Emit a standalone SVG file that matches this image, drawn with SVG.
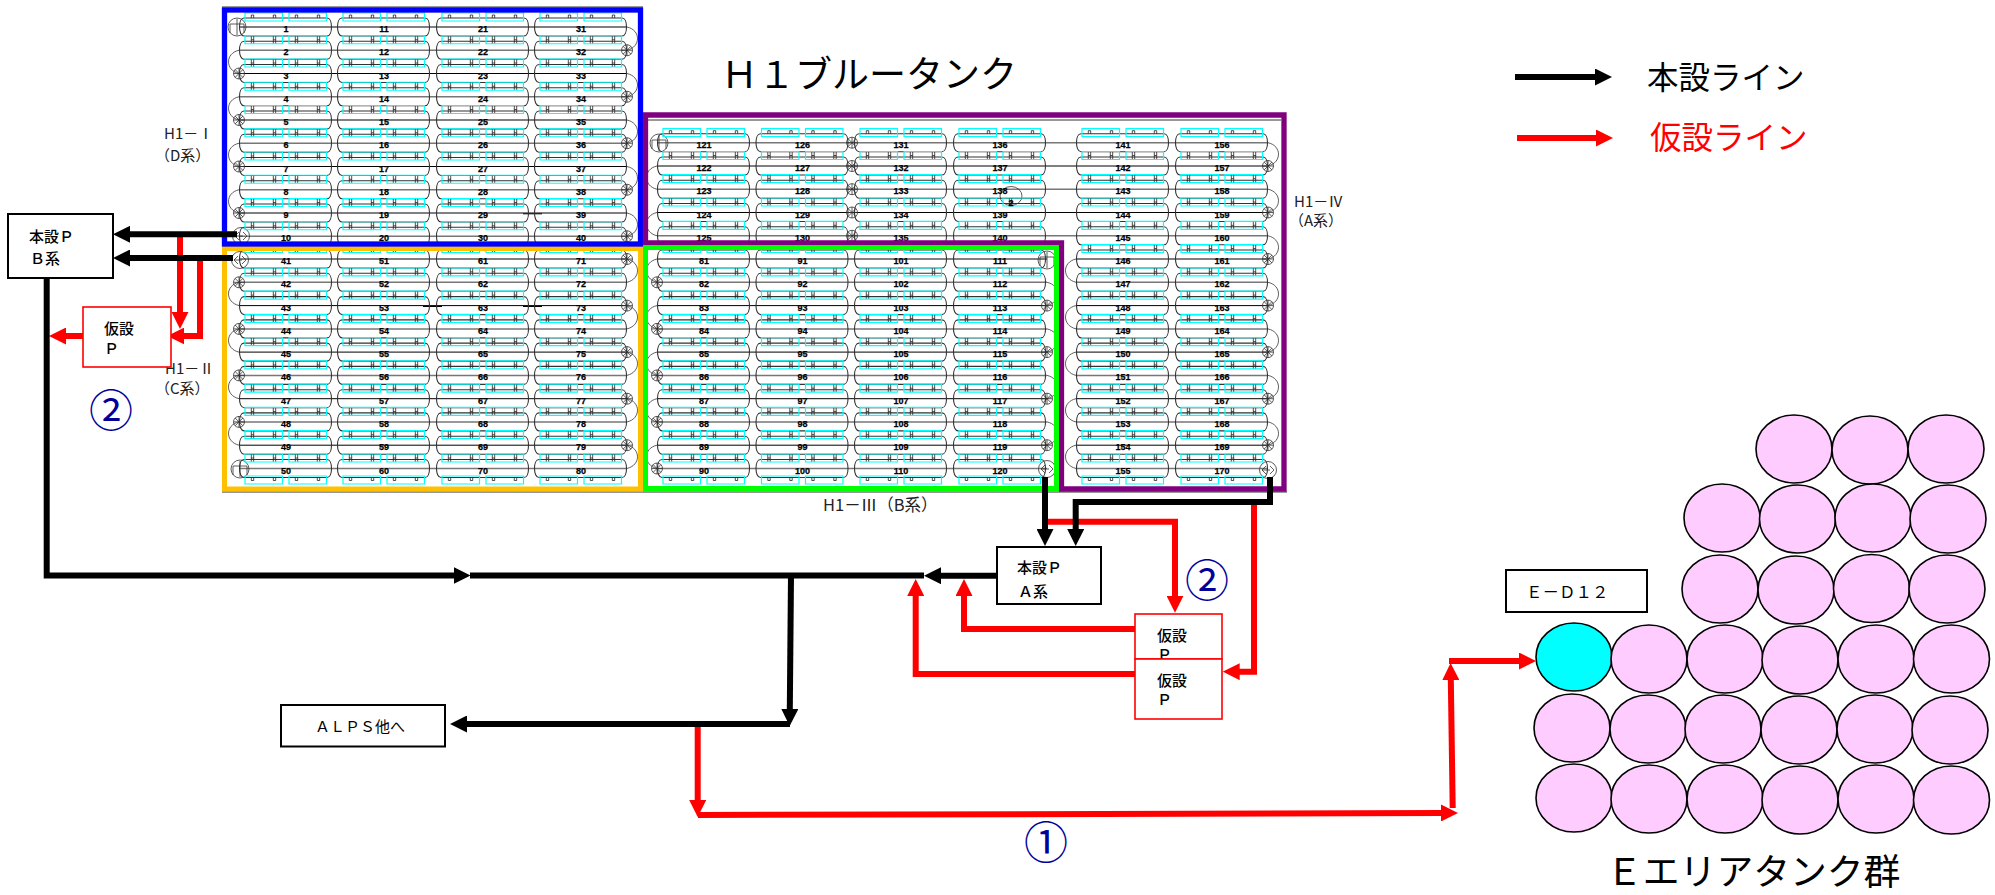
<svg xmlns="http://www.w3.org/2000/svg" width="1995" height="895" viewBox="0 0 1995 895">
<style>
text{font-family:"Noto Sans CJK JP","Liberation Sans",sans-serif;fill:#000;font-weight:400}
.n{font:bold 9px "Liberation Sans",sans-serif;text-anchor:middle;stroke:#000;stroke-width:.25}
.o{fill:none;stroke:#333;stroke-width:1.1}
.c{fill:none;stroke:#00ffff;stroke-width:1.2}
.m{fill:none;stroke:#222;stroke-width:.8}
.lk{fill:none;stroke:#000;stroke-width:1}
.lg{fill:none;stroke:#777;stroke-width:1.5}
.b{fill:none;stroke:#333;stroke-width:.8}
.p{fill:none;stroke:#333;stroke-width:.8}
.fb{fill:none;stroke:#000;stroke-width:6}
.fr{fill:none;stroke:#f00;stroke-width:6}
.fb.a{marker-end:url(#ah)}
.fr.a{marker-end:url(#ahr)}
.box{fill:#fff;stroke:#000;stroke-width:2}
.rbox{fill:#fff;stroke:#f00;stroke-width:1.6}
.t15{font-size:15px;font-weight:500}
.lab{fill:#222}
.no{font-size:44px;fill:#000099;text-anchor:middle}
.et{fill:#ffccff;stroke:#000;stroke-width:1.6}
</style>
<defs>
<marker id="ah" markerUnits="userSpaceOnUse" viewBox="0 0 17 17" markerWidth="17" markerHeight="17" refX="1" refY="8.5" orient="auto"><path d="M0,0L17,8.5L0,17Z" fill="#000"/></marker>
<marker id="ahr" markerUnits="userSpaceOnUse" viewBox="0 0 17 17" markerWidth="17" markerHeight="17" refX="1" refY="8.5" orient="auto"><path d="M0,0L17,8.5L0,17Z" fill="#f00"/></marker>
<path id="ol" class="o" d="M5,-9H88C94,-9 94,9 88,9H5C-1,9 -1,-9 5,-9Z"/>
<g id="tk"><use href="#ol"/><path class="c" d="M6,-14.5h37.5v8h-37.5zM50,-14.5h37.5v8h-37.5z"/><path class="m" d="M12.3,-14v7M14.7,-14v7M12.3,-10.5h2.4M34.3,-14v7M36.7,-14v7M34.3,-10.5h2.4M56.3,-14v7M58.7,-14v7M56.3,-10.5h2.4M78.3,-14v7M80.7,-14v7M78.3,-10.5h2.4"/></g>
<g id="tkT"><use href="#ol"/><path class="c" d="M6,-14h37.5v8h-37.5zM50,-14h37.5v8h-37.5z"/><path class="m" d="M12.3,-9v-3h2.4v3M34.3,-9v-3h2.4v3M56.3,-9v-3h2.4v3M78.3,-9v-3h2.4v3"/></g>
<g id="tkB"><use href="#tk"/><path class="c" d="M6,7.5h37.5v8h-37.5zM50,7.5h37.5v8h-37.5z"/><path class="m" d="M12.3,9v3h2.4v-3M34.3,9v3h2.4v-3M56.3,9v3h2.4v-3M78.3,9v3h2.4v-3"/></g>
<path id="bR" class="b" d="M0,0C14,3 14,20 0,23.27"/>
<path id="bL" class="b" d="M0,0C-14,3 -14,20 0,23.27"/>
<g id="ps"><circle class="p" r="5.5"/><path class="p" d="M-5.5,0H5.5M0,-5.5V5.5M-3.9,-3.9L3.9,3.9M-3.9,3.9L3.9,-3.9"/></g>
<g id="pT"><circle class="p" r="9"/><path class="p" d="M-7,6V-3H7V6M0,-8V8"/></g>
<g id="pS"><circle class="p" r="8.5"/><path class="p" d="M-2,-4L-6,0L-2,4M2,-4L6,0L2,4M-6,0H2"/></g>
</defs>

<g id="piping">
<path class="lk" d="M239,27H627M239,73.5H627M239,120H627M239,166.5H627M239,213H627M239,259H627M239,305.6H627M239,352.1H627M239,398.7H627M239,445.2H627M657,259H1047M657,305.6H1047M657,352.1H1047M657,398.7H1047M657,445.2H1047M657,166H1268M657,212.5H1268M1076,259H1268M1076,305.6H1268M1076,352.1H1268M1076,398.7H1268M1076,445.2H1268M523,213.8H542M423,306.5H442M523,306.5H542"/>
<path class="lg" d="M239,50.25H627M239,96.75H627M239,143.25H627M239,189.75H627M239,236.25H627M239,282.3H627M239,328.9H627M239,375.4H627M239,421.9H627M239,468.5H627M657,282.3H1047M657,328.9H1047M657,375.4H1047M657,421.9H1047M657,468.5H1047M657,142.7H1268M657,189.2H1268M657,235.8H1268M1076,282.3H1268M1076,328.9H1268M1076,375.4H1268M1076,421.9H1268M1076,468.5H1268"/>
<use href="#bR" x="627" y="27"/><use href="#bR" x="627" y="73.5"/><use href="#bR" x="627" y="120"/><use href="#bR" x="627" y="166.5"/><use href="#bR" x="627" y="213"/>
<use href="#bL" x="239" y="50.25"/><use href="#bL" x="239" y="96.75"/><use href="#bL" x="239" y="143.25"/><use href="#bL" x="239" y="189.75"/>
<use href="#ps" x="627" y="50.25"/><use href="#ps" x="627" y="96.75"/><use href="#ps" x="627" y="143.25"/><use href="#ps" x="627" y="189.75"/><use href="#ps" x="627" y="236.25"/>
<use href="#ps" x="239" y="73.5"/><use href="#ps" x="239" y="120"/><use href="#ps" x="239" y="166.5"/><use href="#ps" x="239" y="213"/>
<use href="#pT" x="237" y="27"/><use href="#pS" x="241" y="236"/>
<use href="#bR" x="627" y="259"/><use href="#bR" x="627" y="305.6"/><use href="#bR" x="627" y="352.1"/><use href="#bR" x="627" y="398.7"/><use href="#bR" x="627" y="445.2"/>
<use href="#bL" x="239" y="282.3"/><use href="#bL" x="239" y="328.9"/><use href="#bL" x="239" y="375.4"/><use href="#bL" x="239" y="421.9"/>
<use href="#ps" x="627" y="259"/><use href="#ps" x="627" y="305.6"/><use href="#ps" x="627" y="352.1"/><use href="#ps" x="627" y="398.7"/><use href="#ps" x="627" y="445.2"/>
<use href="#ps" x="239" y="282.3"/><use href="#ps" x="239" y="328.9"/><use href="#ps" x="239" y="375.4"/><use href="#ps" x="239" y="421.9"/>
<use href="#pS" x="240" y="260"/><use href="#pT" x="240" y="469"/>
<use href="#bL" x="657" y="259"/><use href="#bL" x="657" y="305.6"/><use href="#bL" x="657" y="352.1"/><use href="#bL" x="657" y="398.7"/><use href="#bL" x="657" y="445.2"/>
<use href="#bR" x="1047" y="282.3"/><use href="#bR" x="1047" y="328.9"/><use href="#bR" x="1047" y="375.4"/><use href="#bR" x="1047" y="421.9"/>
<use href="#ps" x="657" y="282.3"/><use href="#ps" x="657" y="328.9"/><use href="#ps" x="657" y="375.4"/><use href="#ps" x="657" y="421.9"/><use href="#ps" x="657" y="468.5"/>
<use href="#ps" x="1047" y="305.6"/><use href="#ps" x="1047" y="352.1"/><use href="#ps" x="1047" y="398.7"/><use href="#ps" x="1047" y="445.2"/>
<use href="#pT" x="1047" y="260"/><use href="#pS" x="1047" y="469"/>
<use href="#bL" x="657" y="166"/><use href="#bL" x="657" y="212.5"/>
<use href="#pT" x="659" y="143"/>
<use href="#ps" x="852" y="142.7"/><use href="#ps" x="852" y="166"/><use href="#ps" x="852" y="189.2"/><use href="#ps" x="852" y="212.5"/><use href="#ps" x="852" y="235.8"/>
<use href="#bR" x="1268" y="142.7"/><use href="#bR" x="1268" y="189.2"/><use href="#bR" x="1268" y="235.8"/><use href="#bR" x="1268" y="282.3"/><use href="#bR" x="1268" y="328.9"/><use href="#bR" x="1268" y="375.4"/><use href="#bR" x="1268" y="421.9"/>
<use href="#ps" x="1268" y="166"/><use href="#ps" x="1268" y="212.5"/><use href="#ps" x="1268" y="259"/><use href="#ps" x="1268" y="305.6"/><use href="#ps" x="1268" y="352.1"/><use href="#ps" x="1268" y="398.7"/><use href="#ps" x="1268" y="445.2"/>
<use href="#bL" x="1076" y="259"/><use href="#bL" x="1076" y="305.6"/><use href="#bL" x="1076" y="352.1"/><use href="#bL" x="1076" y="398.7"/><use href="#bL" x="1076" y="445.2"/>
<use href="#pS" x="1268" y="470"/>
<ellipse class="p" cx="1011" cy="196" rx="11" ry="9.5"/>
<path d="M647,120H1281M222,492H1287M222,7H643" fill="none" stroke="#333" stroke-width="1"/>
</g>

<g id="tanks-d">
<g id="t1" transform="translate(239,27)"><use href="#tkT"/><text class="n" x="47" y="5">1</text></g>
<g id="t2" transform="translate(239,50.25)"><use href="#tk"/><text class="n" x="47" y="5">2</text></g>
<g id="t3" transform="translate(239,73.5)"><use href="#tk"/><text class="n" x="47" y="5">3</text></g>
<g id="t4" transform="translate(239,96.75)"><use href="#tk"/><text class="n" x="47" y="5">4</text></g>
<g id="t5" transform="translate(239,120)"><use href="#tk"/><text class="n" x="47" y="5">5</text></g>
<g id="t6" transform="translate(239,143.25)"><use href="#tk"/><text class="n" x="47" y="5">6</text></g>
<g id="t7" transform="translate(239,166.5)"><use href="#tk"/><text class="n" x="47" y="5">7</text></g>
<g id="t8" transform="translate(239,189.75)"><use href="#tk"/><text class="n" x="47" y="5">8</text></g>
<g id="t9" transform="translate(239,213)"><use href="#tk"/><text class="n" x="47" y="5">9</text></g>
<g id="t10" transform="translate(239,236.25)"><use href="#tk"/><text class="n" x="47" y="5">10</text></g>
<g id="t11" transform="translate(337,27)"><use href="#tkT"/><text class="n" x="47" y="5">11</text></g>
<g id="t12" transform="translate(337,50.25)"><use href="#tk"/><text class="n" x="47" y="5">12</text></g>
<g id="t13" transform="translate(337,73.5)"><use href="#tk"/><text class="n" x="47" y="5">13</text></g>
<g id="t14" transform="translate(337,96.75)"><use href="#tk"/><text class="n" x="47" y="5">14</text></g>
<g id="t15" transform="translate(337,120)"><use href="#tk"/><text class="n" x="47" y="5">15</text></g>
<g id="t16" transform="translate(337,143.25)"><use href="#tk"/><text class="n" x="47" y="5">16</text></g>
<g id="t17" transform="translate(337,166.5)"><use href="#tk"/><text class="n" x="47" y="5">17</text></g>
<g id="t18" transform="translate(337,189.75)"><use href="#tk"/><text class="n" x="47" y="5">18</text></g>
<g id="t19" transform="translate(337,213)"><use href="#tk"/><text class="n" x="47" y="5">19</text></g>
<g id="t20" transform="translate(337,236.25)"><use href="#tk"/><text class="n" x="47" y="5">20</text></g>
<g id="t21" transform="translate(436,27)"><use href="#tkT"/><text class="n" x="47" y="5">21</text></g>
<g id="t22" transform="translate(436,50.25)"><use href="#tk"/><text class="n" x="47" y="5">22</text></g>
<g id="t23" transform="translate(436,73.5)"><use href="#tk"/><text class="n" x="47" y="5">23</text></g>
<g id="t24" transform="translate(436,96.75)"><use href="#tk"/><text class="n" x="47" y="5">24</text></g>
<g id="t25" transform="translate(436,120)"><use href="#tk"/><text class="n" x="47" y="5">25</text></g>
<g id="t26" transform="translate(436,143.25)"><use href="#tk"/><text class="n" x="47" y="5">26</text></g>
<g id="t27" transform="translate(436,166.5)"><use href="#tk"/><text class="n" x="47" y="5">27</text></g>
<g id="t28" transform="translate(436,189.75)"><use href="#tk"/><text class="n" x="47" y="5">28</text></g>
<g id="t29" transform="translate(436,213)"><use href="#tk"/><text class="n" x="47" y="5">29</text></g>
<g id="t30" transform="translate(436,236.25)"><use href="#tk"/><text class="n" x="47" y="5">30</text></g>
<g id="t31" transform="translate(534,27)"><use href="#tkT"/><text class="n" x="47" y="5">31</text></g>
<g id="t32" transform="translate(534,50.25)"><use href="#tk"/><text class="n" x="47" y="5">32</text></g>
<g id="t33" transform="translate(534,73.5)"><use href="#tk"/><text class="n" x="47" y="5">33</text></g>
<g id="t34" transform="translate(534,96.75)"><use href="#tk"/><text class="n" x="47" y="5">34</text></g>
<g id="t35" transform="translate(534,120)"><use href="#tk"/><text class="n" x="47" y="5">35</text></g>
<g id="t36" transform="translate(534,143.25)"><use href="#tk"/><text class="n" x="47" y="5">36</text></g>
<g id="t37" transform="translate(534,166.5)"><use href="#tk"/><text class="n" x="47" y="5">37</text></g>
<g id="t38" transform="translate(534,189.75)"><use href="#tk"/><text class="n" x="47" y="5">38</text></g>
<g id="t39" transform="translate(534,213)"><use href="#tk"/><text class="n" x="47" y="5">39</text></g>
<g id="t40" transform="translate(534,236.25)"><use href="#tk"/><text class="n" x="47" y="5">40</text></g>
</g>

<g id="tanks-c">
<g id="t41" transform="translate(239,259)"><use href="#tk"/><text class="n" x="47" y="5">41</text></g>
<g id="t42" transform="translate(239,282.3)"><use href="#tk"/><text class="n" x="47" y="5">42</text></g>
<g id="t43" transform="translate(239,305.6)"><use href="#tk"/><text class="n" x="47" y="5">43</text></g>
<g id="t44" transform="translate(239,328.9)"><use href="#tk"/><text class="n" x="47" y="5">44</text></g>
<g id="t45" transform="translate(239,352.1)"><use href="#tk"/><text class="n" x="47" y="5">45</text></g>
<g id="t46" transform="translate(239,375.4)"><use href="#tk"/><text class="n" x="47" y="5">46</text></g>
<g id="t47" transform="translate(239,398.7)"><use href="#tk"/><text class="n" x="47" y="5">47</text></g>
<g id="t48" transform="translate(239,421.9)"><use href="#tk"/><text class="n" x="47" y="5">48</text></g>
<g id="t49" transform="translate(239,445.2)"><use href="#tk"/><text class="n" x="47" y="5">49</text></g>
<g id="t50" transform="translate(239,468.5)"><use href="#tkB"/><text class="n" x="47" y="5">50</text></g>
<g id="t51" transform="translate(337,259)"><use href="#tk"/><text class="n" x="47" y="5">51</text></g>
<g id="t52" transform="translate(337,282.3)"><use href="#tk"/><text class="n" x="47" y="5">52</text></g>
<g id="t53" transform="translate(337,305.6)"><use href="#tk"/><text class="n" x="47" y="5">53</text></g>
<g id="t54" transform="translate(337,328.9)"><use href="#tk"/><text class="n" x="47" y="5">54</text></g>
<g id="t55" transform="translate(337,352.1)"><use href="#tk"/><text class="n" x="47" y="5">55</text></g>
<g id="t56" transform="translate(337,375.4)"><use href="#tk"/><text class="n" x="47" y="5">56</text></g>
<g id="t57" transform="translate(337,398.7)"><use href="#tk"/><text class="n" x="47" y="5">57</text></g>
<g id="t58" transform="translate(337,421.9)"><use href="#tk"/><text class="n" x="47" y="5">58</text></g>
<g id="t59" transform="translate(337,445.2)"><use href="#tk"/><text class="n" x="47" y="5">59</text></g>
<g id="t60" transform="translate(337,468.5)"><use href="#tkB"/><text class="n" x="47" y="5">60</text></g>
<g id="t61" transform="translate(436,259)"><use href="#tk"/><text class="n" x="47" y="5">61</text></g>
<g id="t62" transform="translate(436,282.3)"><use href="#tk"/><text class="n" x="47" y="5">62</text></g>
<g id="t63" transform="translate(436,305.6)"><use href="#tk"/><text class="n" x="47" y="5">63</text></g>
<g id="t64" transform="translate(436,328.9)"><use href="#tk"/><text class="n" x="47" y="5">64</text></g>
<g id="t65" transform="translate(436,352.1)"><use href="#tk"/><text class="n" x="47" y="5">65</text></g>
<g id="t66" transform="translate(436,375.4)"><use href="#tk"/><text class="n" x="47" y="5">66</text></g>
<g id="t67" transform="translate(436,398.7)"><use href="#tk"/><text class="n" x="47" y="5">67</text></g>
<g id="t68" transform="translate(436,421.9)"><use href="#tk"/><text class="n" x="47" y="5">68</text></g>
<g id="t69" transform="translate(436,445.2)"><use href="#tk"/><text class="n" x="47" y="5">69</text></g>
<g id="t70" transform="translate(436,468.5)"><use href="#tkB"/><text class="n" x="47" y="5">70</text></g>
<g id="t71" transform="translate(534,259)"><use href="#tk"/><text class="n" x="47" y="5">71</text></g>
<g id="t72" transform="translate(534,282.3)"><use href="#tk"/><text class="n" x="47" y="5">72</text></g>
<g id="t73" transform="translate(534,305.6)"><use href="#tk"/><text class="n" x="47" y="5">73</text></g>
<g id="t74" transform="translate(534,328.9)"><use href="#tk"/><text class="n" x="47" y="5">74</text></g>
<g id="t75" transform="translate(534,352.1)"><use href="#tk"/><text class="n" x="47" y="5">75</text></g>
<g id="t76" transform="translate(534,375.4)"><use href="#tk"/><text class="n" x="47" y="5">76</text></g>
<g id="t77" transform="translate(534,398.7)"><use href="#tk"/><text class="n" x="47" y="5">77</text></g>
<g id="t78" transform="translate(534,421.9)"><use href="#tk"/><text class="n" x="47" y="5">78</text></g>
<g id="t79" transform="translate(534,445.2)"><use href="#tk"/><text class="n" x="47" y="5">79</text></g>
<g id="t80" transform="translate(534,468.5)"><use href="#tkB"/><text class="n" x="47" y="5">80</text></g>
</g>

<g id="tanks-b">
<g id="t81" transform="translate(657,259)"><use href="#tk"/><text class="n" x="47" y="5">81</text></g>
<g id="t82" transform="translate(657,282.3)"><use href="#tk"/><text class="n" x="47" y="5">82</text></g>
<g id="t83" transform="translate(657,305.6)"><use href="#tk"/><text class="n" x="47" y="5">83</text></g>
<g id="t84" transform="translate(657,328.9)"><use href="#tk"/><text class="n" x="47" y="5">84</text></g>
<g id="t85" transform="translate(657,352.1)"><use href="#tk"/><text class="n" x="47" y="5">85</text></g>
<g id="t86" transform="translate(657,375.4)"><use href="#tk"/><text class="n" x="47" y="5">86</text></g>
<g id="t87" transform="translate(657,398.7)"><use href="#tk"/><text class="n" x="47" y="5">87</text></g>
<g id="t88" transform="translate(657,421.9)"><use href="#tk"/><text class="n" x="47" y="5">88</text></g>
<g id="t89" transform="translate(657,445.2)"><use href="#tk"/><text class="n" x="47" y="5">89</text></g>
<g id="t90" transform="translate(657,468.5)"><use href="#tkB"/><text class="n" x="47" y="5">90</text></g>
<g id="t91" transform="translate(755.5,259)"><use href="#tk"/><text class="n" x="47" y="5">91</text></g>
<g id="t92" transform="translate(755.5,282.3)"><use href="#tk"/><text class="n" x="47" y="5">92</text></g>
<g id="t93" transform="translate(755.5,305.6)"><use href="#tk"/><text class="n" x="47" y="5">93</text></g>
<g id="t94" transform="translate(755.5,328.9)"><use href="#tk"/><text class="n" x="47" y="5">94</text></g>
<g id="t95" transform="translate(755.5,352.1)"><use href="#tk"/><text class="n" x="47" y="5">95</text></g>
<g id="t96" transform="translate(755.5,375.4)"><use href="#tk"/><text class="n" x="47" y="5">96</text></g>
<g id="t97" transform="translate(755.5,398.7)"><use href="#tk"/><text class="n" x="47" y="5">97</text></g>
<g id="t98" transform="translate(755.5,421.9)"><use href="#tk"/><text class="n" x="47" y="5">98</text></g>
<g id="t99" transform="translate(755.5,445.2)"><use href="#tk"/><text class="n" x="47" y="5">99</text></g>
<g id="t100" transform="translate(755.5,468.5)"><use href="#tkB"/><text class="n" x="47" y="5">100</text></g>
<g id="t101" transform="translate(854,259)"><use href="#tk"/><text class="n" x="47" y="5">101</text></g>
<g id="t102" transform="translate(854,282.3)"><use href="#tk"/><text class="n" x="47" y="5">102</text></g>
<g id="t103" transform="translate(854,305.6)"><use href="#tk"/><text class="n" x="47" y="5">103</text></g>
<g id="t104" transform="translate(854,328.9)"><use href="#tk"/><text class="n" x="47" y="5">104</text></g>
<g id="t105" transform="translate(854,352.1)"><use href="#tk"/><text class="n" x="47" y="5">105</text></g>
<g id="t106" transform="translate(854,375.4)"><use href="#tk"/><text class="n" x="47" y="5">106</text></g>
<g id="t107" transform="translate(854,398.7)"><use href="#tk"/><text class="n" x="47" y="5">107</text></g>
<g id="t108" transform="translate(854,421.9)"><use href="#tk"/><text class="n" x="47" y="5">108</text></g>
<g id="t109" transform="translate(854,445.2)"><use href="#tk"/><text class="n" x="47" y="5">109</text></g>
<g id="t110" transform="translate(854,468.5)"><use href="#tkB"/><text class="n" x="47" y="5">110</text></g>
<g id="t111" transform="translate(953,259)"><use href="#tk"/><text class="n" x="47" y="5">111</text></g>
<g id="t112" transform="translate(953,282.3)"><use href="#tk"/><text class="n" x="47" y="5">112</text></g>
<g id="t113" transform="translate(953,305.6)"><use href="#tk"/><text class="n" x="47" y="5">113</text></g>
<g id="t114" transform="translate(953,328.9)"><use href="#tk"/><text class="n" x="47" y="5">114</text></g>
<g id="t115" transform="translate(953,352.1)"><use href="#tk"/><text class="n" x="47" y="5">115</text></g>
<g id="t116" transform="translate(953,375.4)"><use href="#tk"/><text class="n" x="47" y="5">116</text></g>
<g id="t117" transform="translate(953,398.7)"><use href="#tk"/><text class="n" x="47" y="5">117</text></g>
<g id="t118" transform="translate(953,421.9)"><use href="#tk"/><text class="n" x="47" y="5">118</text></g>
<g id="t119" transform="translate(953,445.2)"><use href="#tk"/><text class="n" x="47" y="5">119</text></g>
<g id="t120" transform="translate(953,468.5)"><use href="#tkB"/><text class="n" x="47" y="5">120</text></g>
</g>

<g id="tanks-a">
<g id="t121" transform="translate(657,142.7)"><use href="#tkT"/><text class="n" x="47" y="5">121</text></g>
<g id="t122" transform="translate(657,166)"><use href="#tk"/><text class="n" x="47" y="5">122</text></g>
<g id="t123" transform="translate(657,189.2)"><use href="#tk"/><text class="n" x="47" y="5">123</text></g>
<g id="t124" transform="translate(657,212.5)"><use href="#tk"/><text class="n" x="47" y="5">124</text></g>
<g id="t125" transform="translate(657,235.8)"><use href="#tk"/><text class="n" x="47" y="5">125</text></g>
<g id="t126" transform="translate(755.5,142.7)"><use href="#tkT"/><text class="n" x="47" y="5">126</text></g>
<g id="t127" transform="translate(755.5,166)"><use href="#tk"/><text class="n" x="47" y="5">127</text></g>
<g id="t128" transform="translate(755.5,189.2)"><use href="#tk"/><text class="n" x="47" y="5">128</text></g>
<g id="t129" transform="translate(755.5,212.5)"><use href="#tk"/><text class="n" x="47" y="5">129</text></g>
<g id="t130" transform="translate(755.5,235.8)"><use href="#tk"/><text class="n" x="47" y="5">130</text></g>
<g id="t131" transform="translate(854,142.7)"><use href="#tkT"/><text class="n" x="47" y="5">131</text></g>
<g id="t132" transform="translate(854,166)"><use href="#tk"/><text class="n" x="47" y="5">132</text></g>
<g id="t133" transform="translate(854,189.2)"><use href="#tk"/><text class="n" x="47" y="5">133</text></g>
<g id="t134" transform="translate(854,212.5)"><use href="#tk"/><text class="n" x="47" y="5">134</text></g>
<g id="t135" transform="translate(854,235.8)"><use href="#tk"/><text class="n" x="47" y="5">135</text></g>
<g id="t136" transform="translate(953,142.7)"><use href="#tkT"/><text class="n" x="47" y="5">136</text></g>
<g id="t137" transform="translate(953,166)"><use href="#tk"/><text class="n" x="47" y="5">137</text></g>
<g id="t138" transform="translate(953,189.2)"><use href="#tk"/><text class="n" x="47" y="5">138</text></g>
<g id="t139" transform="translate(953,212.5)"><use href="#tk"/><text class="n" x="47" y="5">139</text></g>
<g id="t140" transform="translate(953,235.8)"><use href="#tk"/><text class="n" x="47" y="5">140</text></g>
<g id="t141" transform="translate(1076,142.7)"><use href="#tkT"/><text class="n" x="47" y="5">141</text></g>
<g id="t142" transform="translate(1076,166)"><use href="#tk"/><text class="n" x="47" y="5">142</text></g>
<g id="t143" transform="translate(1076,189.2)"><use href="#tk"/><text class="n" x="47" y="5">143</text></g>
<g id="t144" transform="translate(1076,212.5)"><use href="#tk"/><text class="n" x="47" y="5">144</text></g>
<g id="t145" transform="translate(1076,235.8)"><use href="#tk"/><text class="n" x="47" y="5">145</text></g>
<g id="t146" transform="translate(1076,259)"><use href="#tk"/><text class="n" x="47" y="5">146</text></g>
<g id="t147" transform="translate(1076,282.3)"><use href="#tk"/><text class="n" x="47" y="5">147</text></g>
<g id="t148" transform="translate(1076,305.6)"><use href="#tk"/><text class="n" x="47" y="5">148</text></g>
<g id="t149" transform="translate(1076,328.9)"><use href="#tk"/><text class="n" x="47" y="5">149</text></g>
<g id="t150" transform="translate(1076,352.1)"><use href="#tk"/><text class="n" x="47" y="5">150</text></g>
<g id="t151" transform="translate(1076,375.4)"><use href="#tk"/><text class="n" x="47" y="5">151</text></g>
<g id="t152" transform="translate(1076,398.7)"><use href="#tk"/><text class="n" x="47" y="5">152</text></g>
<g id="t153" transform="translate(1076,421.9)"><use href="#tk"/><text class="n" x="47" y="5">153</text></g>
<g id="t154" transform="translate(1076,445.2)"><use href="#tk"/><text class="n" x="47" y="5">154</text></g>
<g id="t155" transform="translate(1076,468.5)"><use href="#tkB"/><text class="n" x="47" y="5">155</text></g>
<g id="t156" transform="translate(1175,142.7)"><use href="#tkT"/><text class="n" x="47" y="5">156</text></g>
<g id="t157" transform="translate(1175,166)"><use href="#tk"/><text class="n" x="47" y="5">157</text></g>
<g id="t158" transform="translate(1175,189.2)"><use href="#tk"/><text class="n" x="47" y="5">158</text></g>
<g id="t159" transform="translate(1175,212.5)"><use href="#tk"/><text class="n" x="47" y="5">159</text></g>
<g id="t160" transform="translate(1175,235.8)"><use href="#tk"/><text class="n" x="47" y="5">160</text></g>
<g id="t161" transform="translate(1175,259)"><use href="#tk"/><text class="n" x="47" y="5">161</text></g>
<g id="t162" transform="translate(1175,282.3)"><use href="#tk"/><text class="n" x="47" y="5">162</text></g>
<g id="t163" transform="translate(1175,305.6)"><use href="#tk"/><text class="n" x="47" y="5">163</text></g>
<g id="t164" transform="translate(1175,328.9)"><use href="#tk"/><text class="n" x="47" y="5">164</text></g>
<g id="t165" transform="translate(1175,352.1)"><use href="#tk"/><text class="n" x="47" y="5">165</text></g>
<g id="t166" transform="translate(1175,375.4)"><use href="#tk"/><text class="n" x="47" y="5">166</text></g>
<g id="t167" transform="translate(1175,398.7)"><use href="#tk"/><text class="n" x="47" y="5">167</text></g>
<g id="t168" transform="translate(1175,421.9)"><use href="#tk"/><text class="n" x="47" y="5">168</text></g>
<g id="t169" transform="translate(1175,445.2)"><use href="#tk"/><text class="n" x="47" y="5">169</text></g>
<g id="t170" transform="translate(1175,468.5)"><use href="#tkB"/><text class="n" x="47" y="5">170</text></g>
<text class="n" x="1011" y="206">2</text>
</g>

<g id="block-frames" fill="none">
<rect id="frame-c" x="224.5" y="248.5" width="416" height="240.5" stroke="#ffc000" stroke-width="5"/>
<rect id="frame-d" x="224.5" y="10" width="416" height="234" stroke="#0000ff" stroke-width="5.3"/>
<path id="frame-a" d="M645.5,115H1284V489H1061.5V243H645.5Z" stroke="#800080" stroke-width="5.3"/>
<rect id="frame-b" x="645.5" y="247.5" width="411" height="241" stroke="#00ff00" stroke-width="5"/>
</g>

<g id="labels">
<text x="721" y="88" font-size="37">Ｈ１ブルータンク</text>
<text class="lab" font-size="15" x="164" y="139">H1－Ⅰ</text>
<text class="lab" font-size="15" x="155" y="161">（D系）</text>
<text class="lab" font-size="15" x="165" y="374">H1－Ⅱ</text>
<text class="lab" font-size="15" x="155" y="394">（C系）</text>
<text class="lab" font-size="16.5" x="823" y="511">H1－Ⅲ（B系）</text>
<text class="lab" font-size="15" x="1294" y="207">H1－Ⅳ</text>
<text class="lab" font-size="15" x="1289" y="226">（A系）</text>
<text class="no" x="111" y="427">②</text>
<text class="no" x="1207" y="597">②</text>
<text class="no" x="1046" y="859">①</text>
<text x="1606" y="885" font-size="36.8">Ｅエリアタンク群</text>
</g>

<g id="connectors">
<path class="fr a" d="M180,237V313"/>
<path class="fr a" d="M200,261V336H183.3"/>
<path class="fr a" d="M87,336H65"/>
<path class="fr a" d="M1047,521.7H1175V596.7"/>
<path class="fr a" d="M1135,629H964V595"/>
<path class="fr a" d="M1135,674H915.7V595"/>
<path class="fr a" d="M1254,503V671.7H1238.7"/>
<path class="fr a" d="M697.7,727V801"/>
<path class="fr a" d="M698,815L1442,813"/>
<path class="fr a" d="M1452.7,808L1450.8,679"/>
<path class="fr a" d="M1449,661H1520"/>
<path class="fb a" d="M237,234.3H129"/>
<path class="fb a" d="M233,258H129"/>
<path class="fb a" d="M46.7,278V575.5H454.6"/>
<path class="fb" d="M470,575.5H924"/>
<path class="fb a" d="M996.7,575.7H940"/>
<path class="fb a" d="M791,575.5L789.8,710"/>
<path class="fb a" d="M790,724H466"/>
<path class="fb a" d="M1045,477V530"/>
<path class="fb a" d="M1270,477V502H1075.7V530"/>
</g>

<g id="pump-b"><rect class="box" x="8" y="214" width="105" height="64"/><text class="t15" x="29" y="242">本設Ｐ</text><text class="t15" x="30" y="264">Ｂ系</text></g>
<g id="pump-a"><rect class="box" x="997" y="547" width="104" height="57"/><text class="t15" x="1017" y="573">本設Ｐ</text><text class="t15" x="1018" y="597">Ａ系</text></g>
<g id="temp-c"><rect class="rbox" x="83" y="307" width="88" height="60"/><text class="t15" x="104" y="334">仮設</text><text class="t15" x="104" y="354">Ｐ</text></g>
<g id="temp-a1"><rect class="rbox" x="1135" y="614" width="87" height="45"/><text class="t15" x="1157" y="641">仮設</text><text class="t15" x="1157" y="660">Ｐ</text></g>
<g id="temp-a2"><rect class="rbox" x="1135" y="659" width="87" height="60"/><text class="t15" x="1157" y="686">仮設</text><text class="t15" x="1157" y="705">Ｐ</text></g>
<g id="alps"><rect class="box" x="281" y="705" width="164" height="41.5"/><text x="315" y="732" font-size="15">ＡＬＰＳ他へ</text></g>
<g id="e-d12-label"><rect class="box" x="1506" y="570" width="141" height="42"/><text x="1526" y="598" font-size="16.5">Ｅ－Ｄ１２</text></g>

<g id="e-area-tanks">
<ellipse class="et" cx="1794" cy="449" rx="38" ry="34"/><ellipse class="et" cx="1870" cy="450" rx="38" ry="34"/><ellipse class="et" cx="1946" cy="449" rx="38" ry="34"/>
<ellipse class="et" cx="1722" cy="518" rx="38" ry="34"/><ellipse class="et" cx="1797.5" cy="519" rx="38" ry="34"/><ellipse class="et" cx="1873" cy="518" rx="38" ry="34"/><ellipse class="et" cx="1948" cy="519" rx="38" ry="34"/>
<ellipse class="et" cx="1720" cy="589" rx="38" ry="34"/><ellipse class="et" cx="1796" cy="590" rx="38" ry="34"/><ellipse class="et" cx="1871.5" cy="588.5" rx="38" ry="34"/><ellipse class="et" cx="1947" cy="589" rx="38" ry="34"/>
<ellipse id="e-d12" cx="1574" cy="657" rx="38" ry="34" fill="#00ffff" stroke="#000" stroke-width="1.6"/><ellipse class="et" cx="1649" cy="659" rx="38" ry="34"/><ellipse class="et" cx="1725" cy="659" rx="38" ry="34"/><ellipse class="et" cx="1800" cy="660" rx="38" ry="34"/><ellipse class="et" cx="1876" cy="659" rx="38" ry="34"/><ellipse class="et" cx="1951.5" cy="659" rx="38" ry="34"/>
<ellipse class="et" cx="1572" cy="728" rx="38" ry="34"/><ellipse class="et" cx="1648" cy="729" rx="38" ry="34"/><ellipse class="et" cx="1723" cy="729" rx="38" ry="34"/><ellipse class="et" cx="1799" cy="730" rx="38" ry="34"/><ellipse class="et" cx="1875" cy="729" rx="38" ry="34"/><ellipse class="et" cx="1950" cy="730" rx="38" ry="34"/>
<ellipse class="et" cx="1574" cy="798" rx="38" ry="34"/><ellipse class="et" cx="1649" cy="799" rx="38" ry="34"/><ellipse class="et" cx="1725" cy="799" rx="38" ry="34"/><ellipse class="et" cx="1800" cy="800" rx="38" ry="34"/><ellipse class="et" cx="1876" cy="799" rx="38" ry="34"/><ellipse class="et" cx="1951.5" cy="800" rx="38" ry="34"/>
</g>

<g id="legend">
<path class="fb a" d="M1515,77H1596"/>
<text x="1647" y="89" font-size="31.5">本設ライン</text>
<path class="fr a" d="M1517,138H1597"/>
<text x="1650" y="149" font-size="31.5" style="fill:#f00">仮設ライン</text>
</g>
</svg>
